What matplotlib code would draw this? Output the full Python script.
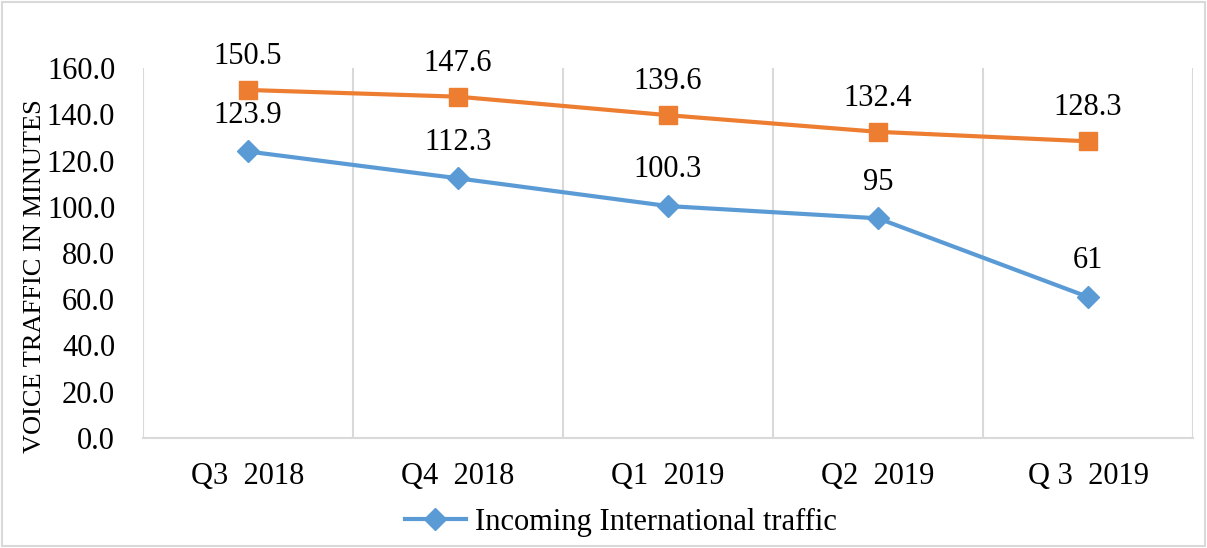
import matplotlib.pyplot as plt
from matplotlib.patches import Rectangle

quarters = ["Q3  2018", "Q4  2018", "Q1  2019", "Q2  2019", "Q 3  2019"]
outgoing = [150.5, 147.6, 139.6, 132.4, 128.3]
incoming = [123.9, 112.3, 100.3, 95, 61]
incoming_labels = ["123.9", "112.3", "100.3", "95", "61"]
outgoing_labels = ["150.5", "147.6", "139.6", "132.4", "128.3"]

plt.rcParams['font.family'] = ['Liberation Serif', 'DejaVu Serif']

fig = plt.figure(figsize=(12.07, 5.48), dpi=100)
ax = fig.add_axes([143/1207, 1-438/548, (1193-143)/1207, (438-68)/548])

x = list(range(len(quarters)))
ax.plot(x, incoming, color='#5B9BD5', lw=3, marker='D', ms=11,
        label='Incoming International traffic')
ax.plot(x, outgoing, color='#ED7D31', lw=3, marker='s', ms=13)

# data labels sit above each point
for xi, v, t in zip(x, outgoing, outgoing_labels):
    ax.annotate(t, (xi, v), xytext=(0, 24), textcoords='offset points',
                ha='center', va='center', fontsize=22)
for xi, v, t in zip(x, incoming, incoming_labels):
    ax.annotate(t, (xi, v), xytext=(0, 26), textcoords='offset points',
                ha='center', va='center', fontsize=22)

ax.set_xlim(-0.5, len(quarters) - 0.5)
ax.set_ylim(0, 160)
ax.set_yticks(range(0, 161, 20))
ax.set_yticklabels([f"{v:.1f}" for v in range(0, 161, 20)])
ax.set_xticks(x)
ax.set_xticklabels(quarters)
ax.tick_params(length=0, labelsize=22)
ax.tick_params(axis='y', pad=20)
ax.tick_params(axis='x', pad=17)

for b in [i - 0.5 for i in range(len(quarters) + 1)]:
    ax.axvline(b, color='#D9D9D9', lw=1.5, zorder=0)
for s in ['top', 'right', 'left']:
    ax.spines[s].set_visible(False)
ax.spines['bottom'].set_color('#D9D9D9')
ax.spines['bottom'].set_linewidth(1.5)

fig.text(35/1207, 1-276/548, "VOICE TRAFFIC IN MINUTES", rotation=90,
         ha='center', va='center', fontsize=19)

fig.legend(loc='center', bbox_to_anchor=(621/1207, 1-522/548), frameon=False,
           fontsize=22, handlelength=2.0, handletextpad=0.3)

fig.patches.append(Rectangle((0.002, 0.003), 0.996, 0.994, transform=fig.transFigure,
                             fill=False, edgecolor='#D9D9D9', lw=1.5))

fig.savefig("out.png", dpi=100)
